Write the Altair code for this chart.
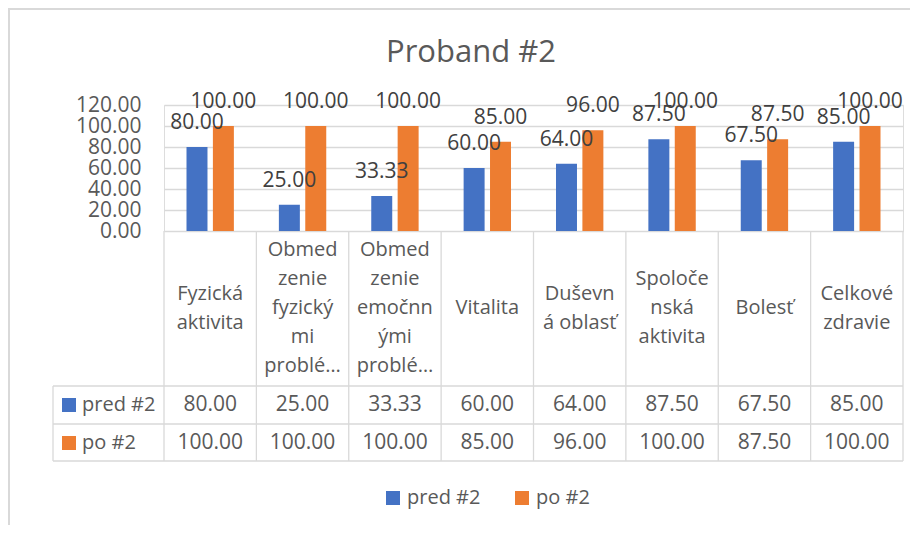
import altair as alt
import pandas as pd

# ---------------- data ----------------
categories = [
    "Fyzická aktivita",
    "Obmedzenie fyzickými problémami",
    "Obmedzenie emočnými problémami",
    "Vitalita",
    "Duševná oblasť",
    "Spoločenská aktivita",
    "Bolesť",
    "Celkové zdravie",
]
header_labels = [
    "Fyzická\naktivita",
    "Obmed\nzenie\nfyzický\nmi\nproblé…",
    "Obmed\nzenie\nemočnn\nými\nproblé…",
    "Vitalita",
    "Duševn\ná oblasť",
    "Spoloče\nnská\naktivita",
    "Bolesť",
    "Celkové\nzdravie",
]
series = ["pred #2", "po #2"]
pred_values = [80.00, 25.00, 33.33, 60.00, 64.00, 87.50, 67.50, 85.00]
po_values = [100.00, 100.00, 100.00, 85.00, 96.00, 100.00, 87.50, 100.00]
y_ticks = [0, 20, 40, 60, 80, 100, 120]
colors = ["#4472C4", "#ED7D31"]
title_text = "Proband #2"

long_rows = []
for c, a, b in zip(categories, pred_values, po_values):
    long_rows.append({"cat": c, "series": series[0], "value": a})
    long_rows.append({"cat": c, "series": series[1], "value": b})
df = pd.DataFrame(long_rows)
wide = pd.DataFrame({"cat": categories, "header": header_labels,
                     "pred": pred_values, "po": po_values})
one = pd.DataFrame({"k": [0]})

# ---------------- layout ----------------
W, H = 739, 126
FONT = "Open Sans"
GRID = "#d9d9d9"
TXT = "#595959"
LW = 1.3
LINE_H = 29

xscale = alt.Scale(domain=categories, paddingInner=0, paddingOuter=0)
xenc = alt.X("cat:N", sort=categories, scale=xscale, axis=None)
xoff = alt.XOffset("series:N", sort=series,
                   scale=alt.Scale(domain=series, paddingInner=0.205, paddingOuter=0.8525))
yenc = alt.Y("value:Q", scale=alt.Scale(domain=[0, 120], nice=False),
             axis=alt.Axis(values=y_ticks, format=".2f", title=None, grid=True,
                           gridColor=GRID, gridWidth=LW, domain=False, ticks=False,
                           labelFont=FONT, labelFontSize=21, labelColor=TXT,
                           labelPadding=23, labelOverlap=False))
cenc = alt.Color("series:N", sort=series,
                 scale=alt.Scale(domain=series, range=colors),
                 legend=alt.Legend(orient="none", legendX=219, legendY=383,
                                   direction="horizontal", title=None,
                                   symbolType="square", symbolSize=196,
                                   symbolStrokeWidth=0, symbolOpacity=1,
                                   labelFont=FONT, labelFontSize=20,
                                   labelColor=TXT, labelOffset=4,
                                   columnPadding=31, padding=0))

bars = alt.Chart(df).mark_bar(opacity=1).encode(x=xenc, xOffset=xoff, y=yenc, color=cenc)

bar_labels = alt.Chart(df).mark_text(
    font=FONT, fontSize=21, color="#404040", baseline="alphabetic", dy=-18
).encode(x=xenc, xOffset=xoff, y=yenc, text=alt.Text("value:Q", format=".2f"))

# table grid lines
def hrule(yv, x1, x2):
    return alt.Chart(one).mark_rule(color=GRID, strokeWidth=LW).encode(
        x=alt.value(x1), x2=alt.value(x2), y=alt.value(yv))

def vrule(xv, y1, y2):
    return alt.Chart(one).mark_rule(color=GRID, strokeWidth=LW).encode(
        x=alt.value(xv), y=alt.value(y1), y2=alt.value(y2))

col_lines = alt.Chart(wide).mark_rule(color=GRID, strokeWidth=LW).encode(
    x=alt.X("cat:N", sort=categories, scale=xscale, axis=None, bandPosition=0),
    y=alt.value(H), y2=alt.value(356))

grid_layers = [
    col_lines,
    vrule(W, H, 356),
    vrule(-111, 281, 356),
    hrule(281, -111, W),
    hrule(319, -111, W),
    hrule(356, -111, W),
]

# header texts, vertically centred in the header row, grouped by number of lines
header_layers = []
for n in sorted({h.count("\n") + 1 for h in header_labels}):
    header_layers.append(
        alt.Chart(wide).transform_calculate(
            nlines="length(split(datum.header, '\\n'))"
        ).transform_filter(
            alt.datum.nlines == n
        ).mark_text(
            font=FONT, fontSize=20, color=TXT, baseline="middle", lineBreak="\n",
            lineHeight=LINE_H, dy=-(n - 1) * LINE_H / 2
        ).encode(x=alt.X("cat:N", sort=categories, scale=xscale, axis=None),
                 y=alt.value(203), text="header:N")
    )

pred_text = alt.Chart(wide).mark_text(
    font=FONT, fontSize=21, color=TXT, baseline="middle"
).encode(x=alt.X("cat:N", sort=categories, scale=xscale, axis=None),
         y=alt.value(300), text=alt.Text("pred:Q", format=".2f"))

po_text = alt.Chart(wide).mark_text(
    font=FONT, fontSize=21, color=TXT, baseline="middle"
).encode(x=alt.X("cat:N", sort=categories, scale=xscale, axis=None),
         y=alt.value(338), text=alt.Text("po:Q", format=".2f"))

def row_key(yv, color, label):
    sq = alt.Chart(one).mark_square(size=196, color=color, opacity=1, strokeWidth=0).encode(
        x=alt.value(-95), y=alt.value(yv))
    tx = alt.Chart(one).mark_text(font=FONT, fontSize=20, color=TXT, align="left",
                                  baseline="middle").encode(
        x=alt.value(-82), y=alt.value(yv), text=alt.value(label))
    return [sq, tx]

frame = alt.Chart(one).mark_rect(fillOpacity=0, stroke=GRID, strokeWidth=2).encode(
    x=alt.value(-155), x2=alt.value(W + 300), y=alt.value(-96), y2=alt.value(H + 600))

title = alt.Chart(one).mark_text(
    font=FONT, fontSize=31, color=TXT, align="center", baseline="alphabetic"
).encode(x=alt.value(307), y=alt.value(-43), text=alt.value(title_text))

chart = alt.layer(
    frame, *grid_layers, bars, bar_labels, *header_layers, pred_text, po_text,
    *row_key(300, colors[0], series[0]), *row_key(338, colors[1], series[1]), title,
).properties(
    width=W, height=H,
    autosize=alt.AutoSizeParams(type="none"),
    padding={"left": 156, "top": 97, "right": 7, "bottom": 294},
).configure_view(stroke=None).configure(background="white")

chart.save("out.html", embed_options={"renderer": "svg", "actions": False})
